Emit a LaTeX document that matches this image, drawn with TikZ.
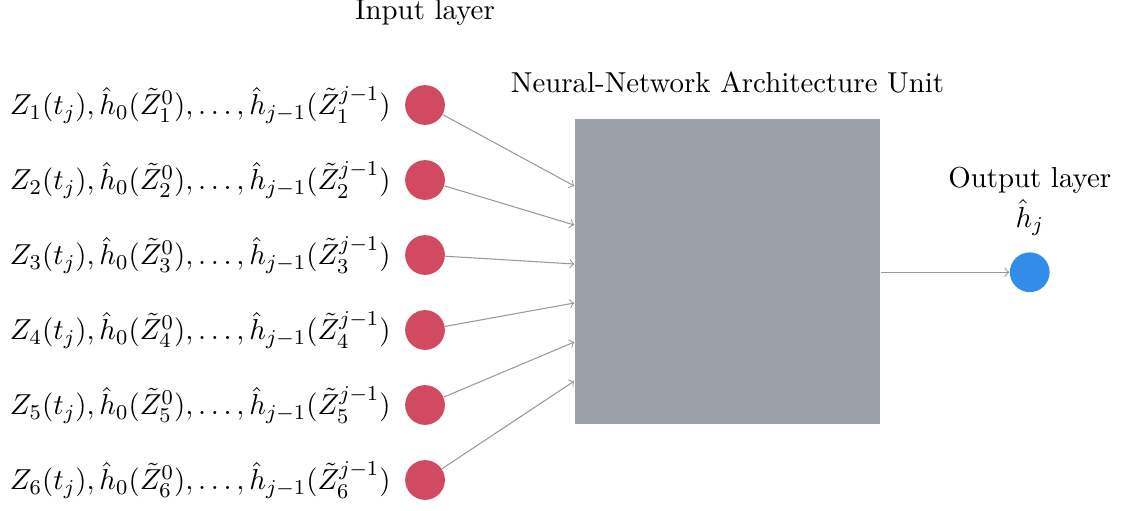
\documentclass[tikz,border=0pt,11pt]{standalone}
\usepackage{amsmath}
\usetikzlibrary{positioning,calc}
\definecolor{inred}{RGB}{209,74,98}
\definecolor{outblue}{RGB}{50,140,232}
\definecolor{unitgray}{RGB}{155,161,168}
\tikzset{
  neuron/.style={circle,minimum size=0.53cm,inner sep=0pt},
  conn/.style={->,gray!80,thin}
}
\begin{document}
\begin{tikzpicture}
    \useasboundingbox (0,0) rectangle (15,6.8);
    \def\ux{9.7};
    \def\uy{3.18};
    \node[fill=unitgray,minimum size=4.07cm,inner sep=0pt] (unit) at (\ux,\uy) {};
    \node[above=0.2cm of unit] (unitlabel) {Neural-Network Architecture Unit};
    \node[neuron,fill=outblue] (out) at (13.73,3.17) {};
    \node (hj) at (13.73,3.9) {$\hat{h}_j$};
    \node (outlabel) at (13.73,4.4) {Output layer};
    \draw[conn] (unit.east |- out) -- (out);
    \foreach \i in {1,...,6} {
        \node[neuron,fill=inred] (in\i) at (5.667,6.4-\i) {};
        \node[left=0.05cm of in\i] (lab\i)
          {$Z_{\i}(t_j),\hat{h}_0(\tilde{Z}_{\i}^{0}),\dots,\hat{h}_{j-1}(\tilde{Z}_{\i}^{j-1})$};
        \coordinate (e\i) at ($(unit.west)+(0,1.66-0.52*\i)$);
        \draw[conn] (in\i) -- (e\i);
      }
    \node (inlabel) at (5.667,6.64) {Input layer};
  \end{tikzpicture}
\end{document}
